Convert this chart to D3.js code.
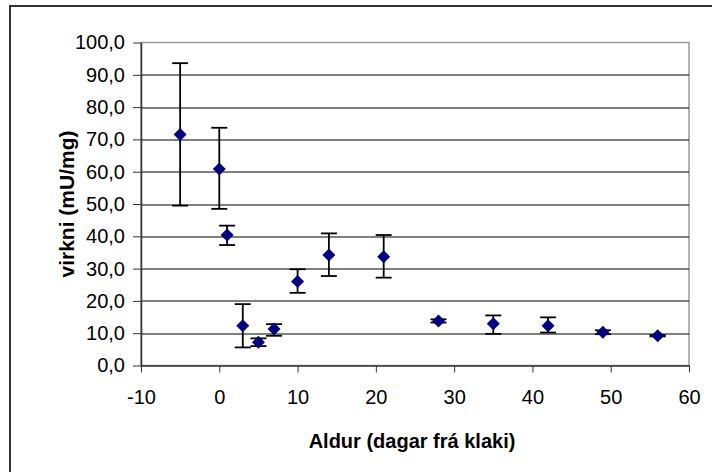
<!DOCTYPE html>
<html>
<head>
<meta charset="utf-8">
<script src="https://cdn.jsdelivr.net/npm/d3@7"></script>
<style>
  body { margin: 0; background: #fff; }
  text { font-family: "Liberation Sans", Arial, sans-serif; }
</style>
</head>
<body>
<div id="chart"></div>
<script>
// aldur i dogum fra klaki
var days  = [-5, 0, 1, 3, 5, 7, 10, 14, 21, 28, 35, 42, 49, 56];
// medalvirkni (mU/mg)
var means = [71.5, 60.8, 40.4, 12.3, 7.2, 11.3, 26.0, 34.2, 33.7, 13.8, 12.9, 12.3, 10.3, 9.2];
var upper = [93.6, 73.6, 43.3, 19.0, 8.4, 12.8, 29.8, 40.9, 40.4, 14.3, 15.5, 14.9, 10.9, 9.4];
var lower = [49.5, 48.5, 37.3, 5.6, 6.0, 9.2, 22.5, 27.7, 27.2, 13.3, 9.8, 10.2, 9.7, 9.0];

var xTicks = [-10, 0, 10, 20, 30, 40, 50, 60];
var yTicks = [0, 10, 20, 30, 40, 50, 60, 70, 80, 90, 100];

var data = days.map(function (d, i) {
    return { day: d, mean: means[i], hi: upper[i], lo: lower[i] };
});

var W = 712, H = 472;
var margin = { top: 42.5, left: 141, bottom: 106.5, right: 23 },
    width = W - margin.left - margin.right,
    height = H - margin.top - margin.bottom;

var root = d3.select('#chart').append('svg')
    .attr('width', W)
    .attr('height', H);

// outer frame (only left/top edges visible)
root.append('rect')
    .attr('x', 10).attr('y', 6)
    .attr('width', W + 20).attr('height', H + 20)
    .attr('fill', 'none')
    .attr('stroke', '#333')
    .attr('stroke-width', 2);

var svg = root.append('g')
    .attr('transform', 'translate(' + margin.left + ',' + margin.top + ')');

var x = d3.scaleLinear().domain([-10, 60]).range([0, width]);
var y = d3.scaleLinear().domain([0, 100]).range([height, 0]);

// plot border (gray top/right)
svg.append('rect')
    .attr('x', 0).attr('y', 0)
    .attr('width', width).attr('height', height)
    .attr('fill', '#fff')
    .attr('stroke', '#999')
    .attr('stroke-width', 1.5);

// gridlines
svg.selectAll('.grid')
    .data(yTicks.filter(function (d) { return d > 0 && d < 100; }))
    .enter().append('line')
    .attr('class', 'grid')
    .attr('x1', 0).attr('x2', width)
    .attr('y1', function (d) { return Math.round(y(d)) + 0.5; })
    .attr('y2', function (d) { return Math.round(y(d)) + 0.5; })
    .attr('stroke', '#000')
    .attr('stroke-width', 1);

// axes
var xAxis = d3.axisBottom(x)
    .tickValues(xTicks)
    .tickSize(7)
    .tickSizeOuter(0)
    .tickPadding(9)
    .tickFormat(function (d) { return String(d); });

svg.append('g')
    .attr('class', 'x_axis')
    .attr('transform', 'translate(0,' + height + ')')
    .call(xAxis);

var yAxis = d3.axisLeft(y)
    .tickValues(yTicks)
    .tickSize(8)
    .tickSizeOuter(0)
    .tickPadding(8)
    .tickFormat(function (d) { return d.toFixed(1).replace('.', ','); });

svg.append('g')
    .attr('class', 'y_axis')
    .call(yAxis);

svg.selectAll('.x_axis path, .y_axis path')
    .attr('stroke', '#333').attr('stroke-width', 1.5);
svg.selectAll('.x_axis line, .y_axis line')
    .attr('stroke', '#333').attr('stroke-width', 1);
svg.selectAll('.x_axis text, .y_axis text')
    .style('font-size', '20px')
    .attr('fill', '#000');
svg.selectAll('.x_axis text').attr('dy', '1.1em');

// error bars
var cap = 8;
var err = svg.selectAll('.err')
    .data(data)
    .enter().append('g')
    .attr('class', 'err')
    .attr('stroke', '#000')
    .attr('stroke-width', 1.8);

err.append('line')
    .attr('x1', function (d) { return x(d.day); })
    .attr('x2', function (d) { return x(d.day); })
    .attr('y1', function (d) { return y(d.hi); })
    .attr('y2', function (d) { return y(d.lo); });
err.append('line')
    .attr('x1', function (d) { return x(d.day) - cap; })
    .attr('x2', function (d) { return x(d.day) + cap; })
    .attr('y1', function (d) { return y(d.hi); })
    .attr('y2', function (d) { return y(d.hi); });
err.append('line')
    .attr('x1', function (d) { return x(d.day) - cap; })
    .attr('x2', function (d) { return x(d.day) + cap; })
    .attr('y1', function (d) { return y(d.lo); })
    .attr('y2', function (d) { return y(d.lo); });

// diamonds
var r = 6.5;
svg.selectAll('.pt')
    .data(data)
    .enter().append('path')
    .attr('class', 'pt')
    .attr('d', function (d) {
        var cx = x(d.day), cy = y(d.mean);
        return 'M' + cx + ',' + (cy - r) + 'L' + (cx + r) + ',' + cy +
               'L' + cx + ',' + (cy + r) + 'L' + (cx - r) + ',' + cy + 'Z';
    })
    .attr('fill', '#000080');

// axis titles
root.append('text')
    .attr('x', margin.left + width / 2 - 3)
    .attr('y', 448)
    .attr('text-anchor', 'middle')
    .style('font-size', '20px')
    .style('font-weight', 'bold')
    .text('Aldur (dagar frá klaki)');

root.append('text')
    .attr('transform', 'translate(74,' + (margin.top + height / 2) + ') rotate(-90)')
    .attr('text-anchor', 'middle')
    .style('font-size', '21px')
    .style('font-weight', 'bold')
    .text('virkni (mU/mg)');
</script>
</body>
</html>
